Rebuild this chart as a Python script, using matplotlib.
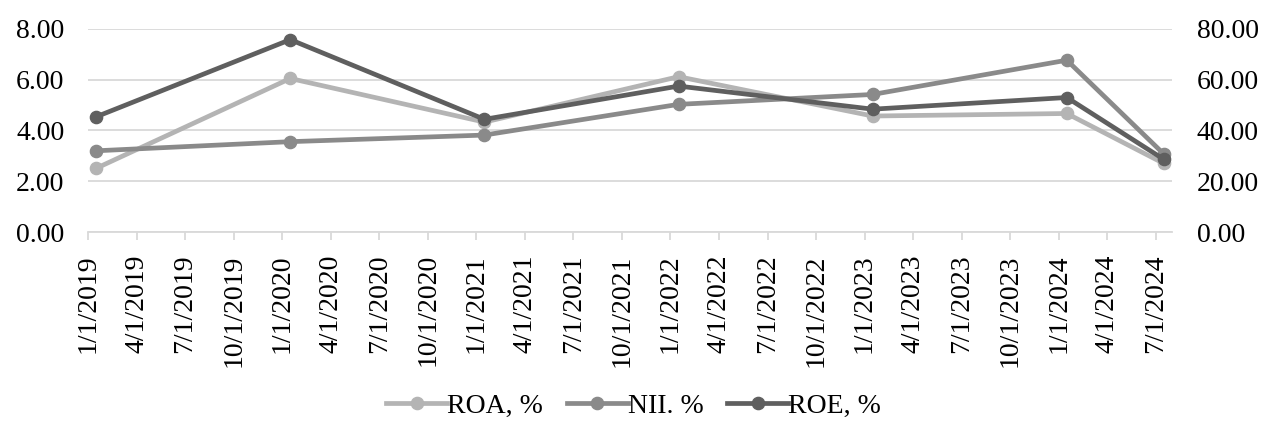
import matplotlib
matplotlib.use("Agg")
import matplotlib.pyplot as plt
from matplotlib.lines import Line2D

# Observation dates (month index from Jan 2019) and indicator values
dates = ["1/1/2019", "1/1/2020", "1/1/2021", "1/1/2022", "1/1/2023", "1/1/2024", "7/1/2024"]
month_index = [0, 12, 24, 36, 48, 60, 66]
roa = [2.51, 6.05, 4.33, 6.12, 4.57, 4.67, 2.70]
nii = [3.20, 3.56, 3.82, 5.03, 5.42, 6.77, 3.07]
roe = [45.4, 75.8, 44.4, 57.5, 48.4, 53.0, 28.6]

tick_labels = []
for year in range(2019, 2025):
    for m in (1, 4, 7, 10):
        if year == 2024 and m > 7:
            break
        tick_labels.append(f"{m}/1/{year}")

left_ticks = [0, 2, 4, 6, 8]
right_ticks = [0, 20, 40, 60, 80]

c_roa = "#b4b4b4"
c_nii = "#8a8a8a"
c_roe = "#5f5f5f"
grid_c = "#d9d9d9"

plt.rcParams["font.family"] = ["Liberation Serif", "DejaVu Serif"]
plt.rcParams["font.size"] = 20

fig = plt.figure(figsize=(12.67, 4.23), dpi=100)
ax = fig.add_axes([0.0695, 0.4515, 0.8555, 0.48])
ax2 = ax.twinx()

x = [m + 0.5 for m in month_index]  # points sit mid-month on the date axis
lw = 3.4
ms = 8.8
ax.plot(x, roa, color=c_roa, lw=lw, marker="o", ms=ms, zorder=3)
ax.plot(x, nii, color=c_nii, lw=lw, marker="o", ms=ms, zorder=4)
ax2.plot(x, roe, color=c_roe, lw=lw, marker="o", ms=ms, zorder=5)

ax.set_xlim(0, 67)
ax.set_ylim(0, 8)
ax2.set_ylim(0, 80)
ax.set_yticks(left_ticks)
ax.set_yticklabels([f"{v:.2f}" for v in left_ticks])
ax2.set_yticks(right_ticks)
ax2.set_yticklabels([f"{v:.2f}" for v in right_ticks])

ax.set_xticks(list(range(0, 67, 3)))
ax.set_xticklabels(tick_labels, rotation=90, ha="center", va="top")

ax.grid(axis="y", color=grid_c, lw=1.3)
ax.set_axisbelow(True)
for a in (ax, ax2):
    for s in ("top", "right", "left", "bottom"):
        a.spines[s].set_visible(False)
ax.spines["bottom"].set_visible(True)
ax.spines["bottom"].set_color(grid_c)
ax.spines["bottom"].set_linewidth(1.3)

ax.tick_params(axis="y", length=0, pad=17)
ax2.tick_params(axis="y", length=0, pad=18)
ax.tick_params(axis="x", length=6, width=1.3, color=grid_c, pad=10)

handles = [Line2D([0], [0], color=c, lw=lw, marker="o", ms=ms) for c in (c_roa, c_nii, c_roe)]
fig.legend(handles, ["ROA, %", "NII. %", "ROE, %"], loc="center", bbox_to_anchor=(0.5, 0.04),
           ncol=3, frameon=False, handlelength=2.2, handletextpad=0.0, columnspacing=0.85,
           fontsize=20)

fig.savefig("out.png", dpi=100)
